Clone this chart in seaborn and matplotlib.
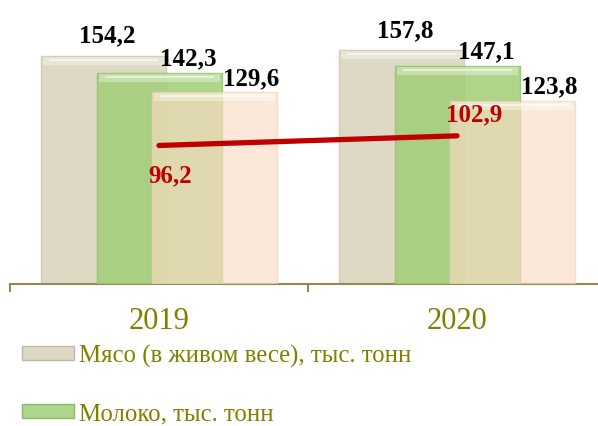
import numpy as np
import pandas as pd
import matplotlib
matplotlib.use("Agg")
import matplotlib.pyplot as plt
import seaborn as sns
from matplotlib.patches import Rectangle

# ---- data ----
years = ["2019", "2020"]
series = ["Мясо (в живом весе), тыс. тонн", "Молоко, тыс. тонн", "Ряд 3"]
meat = [154.2, 157.8]
milk = [142.3, 147.1]
third = [129.6, 123.8]
line_vals = [96.2, 102.9]

# ---- style ----
sns.set_style("white")
plt.rcParams['font.family'] = ['Liberation Serif', 'DejaVu Serif']

OLIVE = '#808000'
AXIS_C = '#948A54'
RED = '#C00000'
colors = ['#DDD9C4', '#A1CE77', '#FBDCC3']
alphas = [1.0, 0.85, 0.65]
edge_cols = ['#D2CDB4', '#97C46C', '#F0D2B8']

df = pd.DataFrame({
    "year": years * 3,
    "value": meat + milk + third,
    "series": [series[0]] * 2 + [series[1]] * 2 + [series[2]] * 2,
})

W, H = 598, 427
PX_Y = 1.48  # pixels per data unit
fig = plt.figure(figsize=(W / 100, H / 100), dpi=100)
ax = fig.add_axes([10 / W, 142 / H, 596 / W, 270 / H])

sns.barplot(data=df, x="year", y="value", hue="series", order=years,
            hue_order=series, palette=colors, dodge=True, width=0.559,
            saturation=1, legend=False, ax=ax, zorder=2)

bar_w = 125 / 298
px_x = 1 / 298
px_y = 1 / PX_Y
for ci, cont in enumerate(ax.containers):
    for p in cont.patches:
        c = p.get_x() + p.get_width() / 2
        p.set_x(c - bar_w / 2)
        p.set_width(bar_w)
        p.set_alpha(alphas[ci])
        p.set_edgecolor(edge_cols[ci])
        p.set_linewidth(1.0)
        p.set_zorder(2 + ci)
        # bevel highlight along the top of the bar
        top = p.get_y() + p.get_height()
        ax.add_patch(Rectangle((p.get_x() + 2 * px_x, top - 9 * px_y),
                               bar_w - 4 * px_x, 8 * px_y,
                               facecolor='white', alpha=0.35, linewidth=0,
                               zorder=2 + ci + 0.1))
        ax.add_patch(Rectangle((p.get_x() + 8 * px_x, top - 5 * px_y),
                               bar_w - 16 * px_x, 2 * px_y,
                               facecolor='white', alpha=0.55, linewidth=0,
                               zorder=2 + ci + 0.2))

ax.set_xlim(-0.5, 1.5)
ax.set_ylim(0, 270 / PX_Y)

# value labels
dx_px = [4, 29, 37]
dy_px = [14, 9, 8]
for ci, cont in enumerate(ax.containers):
    vals = [meat, milk, third][ci]
    for p, v in zip(cont.patches, vals):
        cx = p.get_x() + p.get_width() / 2
        ax.annotate(f"{v:.1f}".replace('.', ','), (cx, v),
                    xytext=(dx_px[ci] * 0.72, dy_px[ci] * 0.72),
                    textcoords='offset points',
                    ha='center', va='baseline', fontsize=18, fontweight='bold',
                    color='black', zorder=10)

# line on secondary axis
ax2 = ax.twinx()
xs = list(range(len(years)))
sns.lineplot(x=xs, y=line_vals, ax=ax2, color=RED, linewidth=3.8,
             solid_capstyle='round', zorder=6)
ax2.set_ylim(0, 270 / 1.44)
ax2.set_xlim(-0.5, 1.5)
ax2.axis('off')
line_off = [(11, -36), (17, 16)]
for x, v, (dx, dy) in zip(xs, line_vals, line_off):
    ax2.annotate(f"{v:.1f}".replace('.', ','), (x, v),
                 xytext=(dx * 0.72, dy * 0.72), textcoords='offset points',
                 ha='center', va='baseline', fontsize=18, fontweight='bold',
                 color=RED, zorder=10)

# axes styling
for s in ['top', 'right', 'left']:
    ax.spines[s].set_visible(False)
ax.spines['bottom'].set_color(AXIS_C)
ax.spines['bottom'].set_linewidth(1.5)
ax.set_yticks([])
ax.set_xlabel('')
ax.set_ylabel('')
ax.set_xticks(xs)
ax.set_xticklabels(years, fontsize=22, color=OLIVE)
ax.set_xticks([-0.5, 0.5, 1.5], minor=True)
ax.tick_params(axis='x', which='major', length=0, pad=16, bottom=True)
ax.tick_params(axis='x', which='minor', length=6, width=1.5, color=AXIS_C,
               direction='out', bottom=True)

# legend
handles = [Rectangle((0, 0), 1, 1, facecolor=colors[0], edgecolor='#BDB8A0', linewidth=1),
           Rectangle((0, 0), 1, 1, facecolor='#B0D58C', edgecolor='#8DBB62', linewidth=1)]
fig.legend(handles, series[:2], loc='upper left',
           bbox_to_anchor=(22 / W, 1 - 345 / H), frameon=False,
           fontsize=17.8, labelcolor=OLIVE, handlelength=2.1, handleheight=0.5,
           handletextpad=0.2, labelspacing=1.45, borderaxespad=0, borderpad=0)

fig.savefig('out.png', dpi=100)
